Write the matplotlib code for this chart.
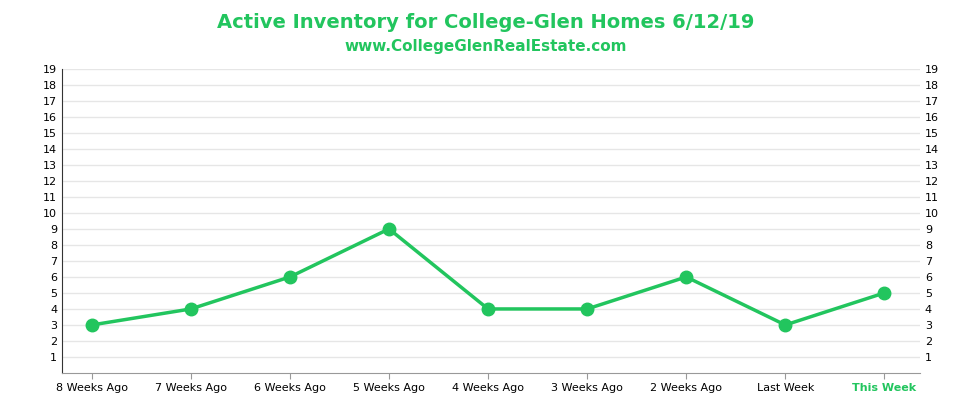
import matplotlib
matplotlib.use("Agg")
import matplotlib.pyplot as plt

categories = ["8 Weeks Ago","7 Weeks Ago","6 Weeks Ago","5 Weeks Ago","4 Weeks Ago","3 Weeks Ago","2 Weeks Ago","Last Week","This Week"]
values = [3,4,6,9,4,4,6,3,5]
yticks = list(range(1,20))
green = "#22c55e"

fig = plt.figure(figsize=(9.71,4.13), dpi=100)
ax = fig.add_axes([0.0639, 0.0969, 0.8836, 0.7364])
x = list(range(len(categories)))
ax.plot(x, values, color=green, lw=2.5, marker="o", ms=9, zorder=3)
ax.set_xlim(-0.30, 8.36)
ax.set_ylim(0, 19)
ax.set_yticks(yticks)
ax.set_xticks(x)
ax.set_xticklabels(categories, fontsize=8)
for lab in ax.get_xticklabels()[-1:]:
    lab.set_color(green); lab.set_fontweight("bold")
ax.tick_params(axis="y", labelsize=8, length=0, labelright=True)
ax.tick_params(axis="x", length=4, color="#999999")
ax.grid(axis="y", color="#e6e6e6", lw=1)
for s in ["top","right"]:
    ax.spines[s].set_visible(False)
ax.spines["left"].set_color("#333333")
ax.spines["bottom"].set_color("#999999")
ax.set_axisbelow(True)
fig.text(0.5, 0.945, "Active Inventory for College-Glen Homes 6/12/19", ha="center", va="center",
         color=green, fontsize=14, fontweight="bold")
fig.text(0.5, 0.888, "www.CollegeGlenRealEstate.com", ha="center", va="center",
         color=green, fontsize=11, fontweight="bold")
fig.savefig("out.png", dpi=100)
